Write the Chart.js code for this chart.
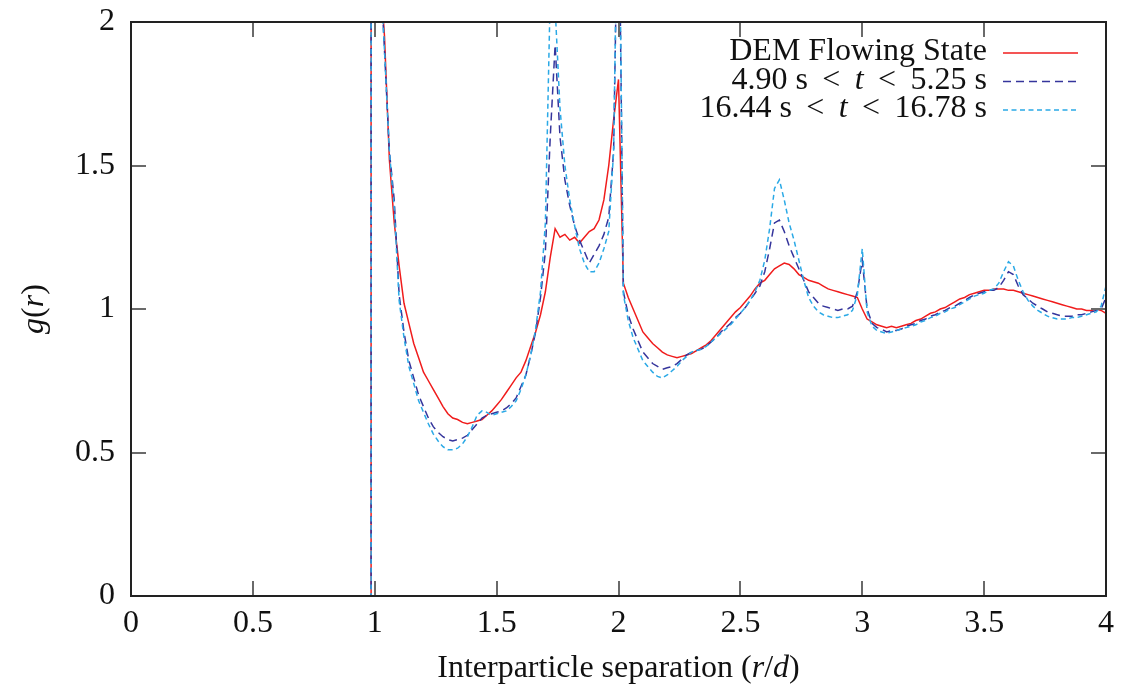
<!DOCTYPE html>
<html>
<head>
<meta charset="utf-8">
<script src="https://cdn.jsdelivr.net/npm/chart.js@4/dist/chart.umd.min.js"></script>
<style>
  html, body { margin: 0; padding: 0; background: #fff; }
  #wrap { width: 1126px; height: 688px; }
</style>
</head>
<body>
<div id="wrap"><canvas id="grChart" width="1126" height="688"></canvas></div>
<script>
// === DATOS ===
const rValues = [0, 0.985, 0.985,
  1.00, 1.02, 1.04, 1.06, 1.08, 1.10, 1.12, 1.14, 1.16, 1.18,
  1.20, 1.22, 1.24, 1.26, 1.28, 1.30, 1.32, 1.34, 1.36, 1.38,
  1.40, 1.42, 1.44, 1.46, 1.48, 1.50, 1.52, 1.54, 1.56, 1.58,
  1.60, 1.62, 1.64, 1.66, 1.68, 1.70, 1.72, 1.74, 1.76, 1.78,
  1.80, 1.82, 1.84, 1.86, 1.88, 1.90, 1.92, 1.94, 1.96, 1.98,
  2.00, 2.02, 2.04, 2.06, 2.08, 2.10, 2.12, 2.14, 2.16, 2.18,
  2.20, 2.22, 2.24, 2.26, 2.28, 2.30, 2.32, 2.34, 2.36, 2.38,
  2.40, 2.42, 2.44, 2.46, 2.48, 2.50, 2.52, 2.54, 2.56, 2.58,
  2.60, 2.62, 2.64, 2.66, 2.68, 2.70, 2.72, 2.74, 2.76, 2.78,
  2.80, 2.82, 2.84, 2.86, 2.88, 2.90, 2.92, 2.94, 2.96, 2.98,
  3.00, 3.02, 3.04, 3.06, 3.08, 3.10, 3.12, 3.14, 3.16, 3.18,
  3.20, 3.22, 3.24, 3.26, 3.28, 3.30, 3.32, 3.34, 3.36, 3.38,
  3.40, 3.42, 3.44, 3.46, 3.48, 3.50, 3.52, 3.54, 3.56, 3.58,
  3.60, 3.62, 3.64, 3.66, 3.68, 3.70, 3.72, 3.74, 3.76, 3.78,
  3.80, 3.82, 3.84, 3.86, 3.88, 3.90, 3.92, 3.94, 3.96, 3.98,
  4.00];

const gDem = [0, 0, 3.0,
  2.6, 2.2, 1.95, 1.52, 1.3, 1.15, 1.02, 0.95, 0.88, 0.83,
  0.78, 0.75, 0.72, 0.69, 0.66, 0.635, 0.62, 0.615, 0.605, 0.60,
  0.605, 0.61, 0.615, 0.63, 0.645, 0.665, 0.685, 0.71, 0.735, 0.76,
  0.78, 0.82, 0.87, 0.92, 0.98, 1.06, 1.18, 1.28, 1.25, 1.26,
  1.24, 1.25, 1.23, 1.25, 1.27, 1.28, 1.31, 1.38, 1.50, 1.66,
  1.80, 1.09, 1.04, 1.00, 0.96, 0.92, 0.90, 0.88, 0.865, 0.85,
  0.84, 0.835, 0.83, 0.835, 0.84, 0.845, 0.855, 0.865, 0.875, 0.89,
  0.91, 0.93, 0.95, 0.97, 0.99, 1.005, 1.025, 1.045, 1.07, 1.09,
  1.10, 1.12, 1.14, 1.15, 1.16, 1.155, 1.14, 1.12, 1.11, 1.10,
  1.095, 1.09, 1.08, 1.07, 1.065, 1.06, 1.055, 1.05, 1.045, 1.04,
  1.00, 0.965, 0.955, 0.945, 0.94, 0.935, 0.94, 0.935, 0.94, 0.945,
  0.95, 0.96, 0.965, 0.975, 0.985, 0.99, 1.0, 1.005, 1.015, 1.025,
  1.035, 1.04, 1.05, 1.055, 1.06, 1.065, 1.065, 1.07, 1.07, 1.07,
  1.065, 1.065, 1.06, 1.055, 1.05, 1.045, 1.04, 1.035, 1.03, 1.025,
  1.02, 1.015, 1.01, 1.005, 1.0, 1.0, 0.995, 0.995, 1.0, 0.995,
  0.985];

const gEarly = [0, 0, 3.0,
  2.6, 2.25, 1.9, 1.55, 1.38, 1.05, 0.92, 0.82, 0.76, 0.70,
  0.66, 0.62, 0.59, 0.57, 0.555, 0.545, 0.54, 0.545, 0.55, 0.56,
  0.58, 0.60, 0.62, 0.63, 0.635, 0.64, 0.645, 0.655, 0.67, 0.69,
  0.73, 0.77, 0.84, 0.92, 1.04, 1.2, 1.6, 1.92, 1.6, 1.45,
  1.36, 1.29, 1.24, 1.20, 1.16, 1.19, 1.22, 1.26, 1.32, 1.55,
  2.6, 1.06, 0.98, 0.93, 0.89, 0.85, 0.83, 0.81, 0.80, 0.79,
  0.795, 0.80, 0.81, 0.825, 0.84, 0.85, 0.855, 0.86, 0.87, 0.885,
  0.90, 0.92, 0.935, 0.95, 0.97, 0.985, 1.005, 1.03, 1.055, 1.08,
  1.13, 1.21, 1.30, 1.31, 1.27, 1.22, 1.18, 1.14, 1.10, 1.06,
  1.04, 1.02, 1.01, 1.005, 1.0, 0.995, 1.0, 1.0, 1.01, 1.06,
  1.17, 1.0, 0.95, 0.935, 0.93, 0.92, 0.925, 0.925, 0.93, 0.94,
  0.945, 0.95, 0.96, 0.965, 0.975, 0.98, 0.99, 0.995, 1.005, 1.01,
  1.02, 1.03, 1.04, 1.05, 1.055, 1.06, 1.065, 1.065, 1.075, 1.10,
  1.13, 1.12, 1.08, 1.05, 1.035, 1.02, 1.01, 1.0, 0.99, 0.985,
  0.98, 0.975, 0.975, 0.975, 0.98, 0.98, 0.985, 0.99, 0.995, 1.0,
  1.04];

const gLate = [0, 0, 3.0,
  2.6, 2.25, 1.9, 1.55, 1.35, 1.03, 0.90, 0.80, 0.74, 0.68,
  0.64, 0.60, 0.565, 0.54, 0.52, 0.51, 0.51, 0.515, 0.53, 0.555,
  0.59, 0.63, 0.645, 0.64, 0.63, 0.635, 0.64, 0.645, 0.66, 0.68,
  0.72, 0.77, 0.84, 0.93, 1.06, 1.30, 2.1, 2.05, 1.7, 1.5,
  1.38, 1.29, 1.21, 1.16, 1.13, 1.13, 1.16, 1.21, 1.27, 1.55,
  2.7, 1.05, 0.96, 0.90, 0.86, 0.82, 0.80, 0.78, 0.765, 0.76,
  0.77, 0.785, 0.80, 0.82, 0.835, 0.85, 0.855, 0.86, 0.87, 0.885,
  0.90, 0.915, 0.93, 0.945, 0.965, 0.985, 1.005, 1.03, 1.06, 1.10,
  1.17, 1.28, 1.42, 1.45, 1.38, 1.30, 1.24, 1.17, 1.10, 1.04,
  1.01, 0.99, 0.98, 0.975, 0.97, 0.97, 0.975, 0.98, 0.995, 1.05,
  1.21, 0.99, 0.94, 0.925, 0.92, 0.915, 0.92, 0.925, 0.93, 0.935,
  0.94, 0.945, 0.955, 0.96, 0.97, 0.975, 0.985, 0.99, 1.0, 1.005,
  1.015, 1.025, 1.035, 1.045, 1.05, 1.055, 1.065, 1.07, 1.09, 1.13,
  1.165, 1.15, 1.10, 1.06, 1.03, 1.01, 0.995, 0.985, 0.975, 0.97,
  0.965, 0.965, 0.965, 0.97, 0.97, 0.975, 0.98, 0.985, 0.99, 1.01,
  1.08];

const xTicks = [0, 0.5, 1, 1.5, 2, 2.5, 3, 3.5, 4];
const yTicks = [0, 0.5, 1, 1.5, 2];

// etiquetas: trozos [texto, cursiva]
const legendLabels = [
  [["DEM Flowing State", false]],
  [["4.90 s \u2009<\u2009 ", false], ["t", true], [" \u2009<\u2009 5.25 s", false]],
  [["16.44 s \u2009<\u2009 ", false], ["t", true], [" \u2009<\u2009 16.78 s", false]]
];
const xTitle = [["Interparticle separation (", false], ["r", true], ["/", false], ["d", true], [")", false]];
const yTitle = [["g", true], ["(", false], ["r", true], [")", false]];

const FONT = '"Liberation Serif", "DejaVu Serif", serif';
const FS = 32;

function toPoints(ys) {
  return rValues.map((x, i) => ({ x: x, y: ys[i] }));
}

function drawPieces(ctx, pieces, x, y, align) {
  let total = 0;
  pieces.forEach(p => {
    ctx.font = (p[1] ? "italic " : "") + FS + "px " + FONT;
    total += ctx.measureText(p[0]).width;
  });
  let cx = align === "right" ? x - total : (align === "center" ? x - total / 2 : x);
  ctx.textAlign = "left";
  pieces.forEach(p => {
    ctx.font = (p[1] ? "italic " : "") + FS + "px " + FONT;
    ctx.fillText(p[0], cx, y);
    cx += ctx.measureText(p[0]).width;
  });
}

// === MARCO, TICKS, TITULOS Y LEYENDA ===
const framePlugin = {
  id: "frame",
  afterDraw(chart) {
    const ctx = chart.ctx;
    const a = chart.chartArea;
    const xs = chart.scales.x, ys = chart.scales.y;
    ctx.save();
    // ticks hacia adentro
    ctx.strokeStyle = "#6a6a6a";
    ctx.lineWidth = 2;
    ctx.beginPath();
    xTicks.forEach(v => {
      const px = Math.round(xs.getPixelForValue(v));
      ctx.moveTo(px, a.bottom); ctx.lineTo(px, a.bottom - 15);
      ctx.moveTo(px, a.top); ctx.lineTo(px, a.top + 15);
    });
    yTicks.forEach(v => {
      const py = Math.round(ys.getPixelForValue(v));
      ctx.moveTo(a.left, py); ctx.lineTo(a.left + 15, py);
      ctx.moveTo(a.right, py); ctx.lineTo(a.right - 15, py);
    });
    ctx.stroke();
    // marco
    ctx.strokeStyle = "#222";
    ctx.lineWidth = 2;
    ctx.strokeRect(a.left, a.top, a.right - a.left, a.bottom - a.top);

    ctx.fillStyle = "#111";
    ctx.textBaseline = "alphabetic";
    // titulo eje x
    drawPieces(ctx, xTitle, (a.left + a.right) / 2, 677, "center");
    // titulo eje y
    ctx.save();
    ctx.translate(43, (a.top + a.bottom) / 2);
    ctx.rotate(-Math.PI / 2);
    drawPieces(ctx, yTitle, 0, 0, "center");
    ctx.restore();

    // leyenda
    chart.data.datasets.forEach((ds, i) => {
      const yRow = 52 + 28.5 * i;
      ctx.fillStyle = "#111";
      ctx.textBaseline = "middle";
      drawPieces(ctx, legendLabels[i], 987, yRow, "right");
      ctx.strokeStyle = ds.borderColor;
      ctx.lineWidth = ds.borderWidth;
      ctx.setLineDash(ds.borderDash || []);
      ctx.beginPath();
      ctx.moveTo(1003, yRow + 1);
      ctx.lineTo(1078, yRow + 1);
      ctx.stroke();
      ctx.setLineDash([]);
    });
    ctx.restore();
  }
};

const ctx = document.getElementById("grChart").getContext("2d");
const grChart = new Chart(ctx, {
  type: "line",
  data: {
    datasets: [
      { label: "DEM Flowing State", data: toPoints(gDem), borderColor: "#f01c1c",
        borderWidth: 1.5, pointRadius: 0, tension: 0, order: 3, clip: 1 },
      { label: "4.90 s < t < 5.25 s", data: toPoints(gEarly), borderColor: "#35359c",
        borderWidth: 1.5, borderDash: [8, 5], pointRadius: 0, tension: 0, order: 2, clip: 1 },
      { label: "16.44 s < t < 16.78 s", data: toPoints(gLate), borderColor: "#2aa9e6",
        borderWidth: 1.5, borderDash: [5, 3.5], pointRadius: 0, tension: 0, order: 1, clip: 1 }
    ]
  },
  options: {
    responsive: false,
    animation: false,
    events: [],
    layout: { padding: { top: 22, right: 20, left: 0, bottom: 0 } },
    plugins: { legend: { display: false }, tooltip: { enabled: false } },
    scales: {
      x: {
        type: "linear", min: 0, max: 4,
        afterFit: (s) => { s.height = 92; s.paddingLeft = 0; s.paddingRight = 0; },
        afterBuildTicks: (s) => { s.ticks = xTicks.map(v => ({ value: v })); },
        grid: { display: false, drawTicks: false },
        border: { display: false },
        ticks: { color: "#111", padding: 8, font: { family: FONT, size: FS },
                 callback: (v) => String(v) }
      },
      y: {
        type: "linear", min: 0, max: 2,
        afterFit: (s) => { s.width = 131; s.paddingTop = 0; s.paddingBottom = 0; },
        afterBuildTicks: (s) => { s.ticks = yTicks.map(v => ({ value: v })); },
        grid: { display: false, drawTicks: false },
        border: { display: false },
        ticks: { color: "#111", padding: 16, font: { family: FONT, size: FS },
                 callback: (v) => String(v) }
      }
    }
  },
  plugins: [framePlugin]
});
</script>
</body>
</html>
